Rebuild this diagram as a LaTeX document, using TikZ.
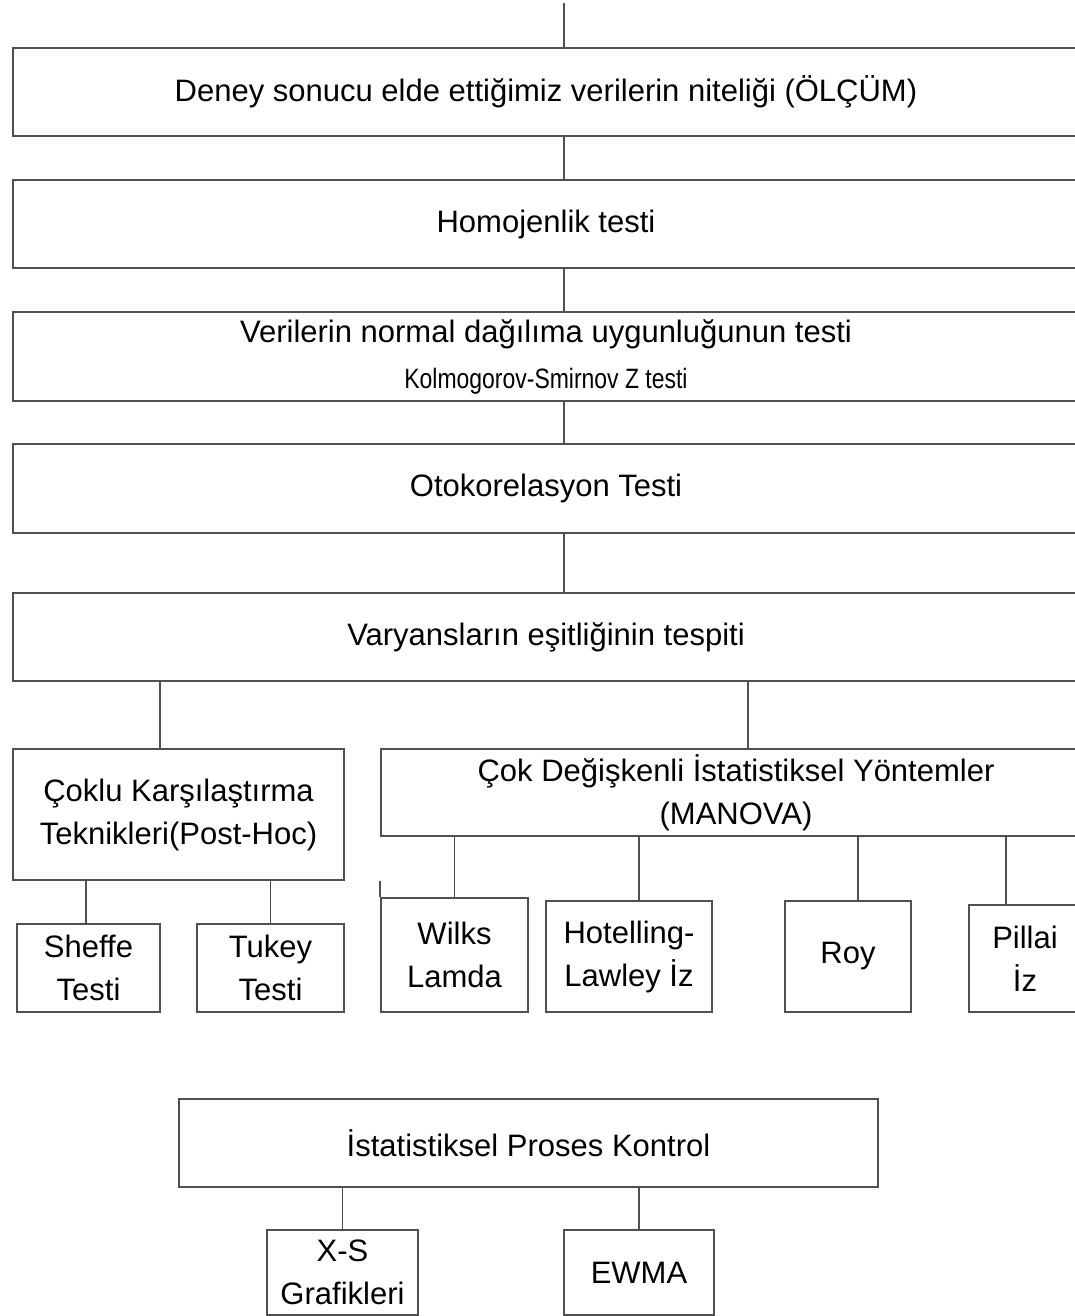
\documentclass[tikz,border=0pt]{standalone}
\usepackage{fontspec}
\setmainfont{Liberation Sans}
\usetikzlibrary{positioning}
\definecolor{framegray}{RGB}{80,80,80}
\tikzset{
  kutu/.style={draw=framegray, line width=2pt, inner sep=0pt, align=center,
    anchor=north west, font=\fontsize{31}{43}\selectfont},
  bag/.style={draw=framegray, line width=1.5pt},
}
\begin{document}
\begin{tikzpicture}[x=1pt, y=-1pt]
\useasboundingbox (0,0) rectangle (1075,1316);
\clip (0,0) rectangle (1075,1316);
\node [kutu, minimum width=1066pt, minimum height=88pt] (olcum) at (12,47) {Deney sonucu elde ettiğimiz verilerin niteliği (ÖLÇÜM)};
\node [kutu, minimum width=1066pt, minimum height=88pt] (homo) at (12,179) {Homojenlik testi};
\node [kutu, minimum width=1066pt, minimum height=89pt] (normal) at (12,311) {Verilerin normal dağılıma uygunluğunun testi\\[3pt]
  {\fontsize{28}{30}\addfontfeature{FakeStretch=0.82}\selectfont Kolmogorov-Smirnov Z testi}};
\node [kutu, minimum width=1066pt, minimum height=89pt] (otok) at (12,443) {Otokorelasyon Testi};
\node [kutu, minimum width=1066pt, minimum height=88pt] (varyans) at (12,592) {Varyansların eşitliğinin tespiti};

\node [kutu, minimum width=331pt, minimum height=131pt] (coklu) at (12,748) {Çoklu Karşılaştırma\\Teknikleri(Post-Hoc)};
\node [kutu, minimum width=143pt, minimum height=88pt] (sheffe) at (16,923) {Sheffe\\Testi};
\node [kutu, minimum width=147pt, minimum height=88pt] (tukey) at (196,923) {Tukey\\Testi};

\node [kutu, minimum width=710pt, minimum height=87pt] (manova) at (380,748) {Çok Değişkenli İstatistiksel Yöntemler\\(MANOVA)};
\node [kutu, minimum width=147pt, minimum height=114pt] (wilks) at (380,897) {Wilks\\Lamda};
\node [kutu, minimum width=166pt, minimum height=111pt] (hot) at (545,900) {Hotelling-\\Lawley İz};
\node [kutu, minimum width=126pt, minimum height=111pt] (roy) at (784,900) {Roy};
\node [kutu, minimum width=112pt, minimum height=107pt] (pillai) at (968,904) {Pillai\\İz};

\node [kutu, minimum width=699pt, minimum height=88pt] (spk) at (178,1098) {İstatistiksel Proses Kontrol};
\node [kutu, minimum width=151pt, minimum height=85pt] (xs) at (266,1229) {X-S\\Grafikleri};
\node [kutu, minimum width=150pt, minimum height=85pt] (ewma) at (563,1229) {EWMA};

\coordinate (trunk) at (564,3);
\draw [bag] (trunk) -- (olcum.north -| trunk);
\draw [bag] (olcum.south -| trunk) -- (homo.north -| trunk);
\draw [bag] (homo.south -| trunk) -- (normal.north -| trunk);
\draw [bag] (normal.south -| trunk) -- (otok.north -| trunk);
\draw [bag] (otok.south -| trunk) -- (varyans.north -| trunk);

\coordinate (kol) at ([xshift=-18.5pt]coklu.north);
\coordinate (mkol) at ([xshift=12pt]manova.north);
\draw [bag] (varyans.south -| kol) -- (kol);
\draw [bag] (varyans.south -| mkol) -- (mkol);

\coordinate (shc) at ([xshift=-2.5pt]sheffe.north);
\draw [bag] (coklu.south -| shc) -- (shc);
\draw [bag] (coklu.south -| tukey.north) -- (tukey.north);

\coordinate (hotc) at ([xshift=10pt]hot.north);
\coordinate (royc) at ([xshift=10pt]roy.north);
\coordinate (pilc) at ([xshift=-19pt]pillai.north);
\draw [bag] (manova.south -| wilks.north) -- (wilks.north);
\draw [bag] (manova.south -| hotc) -- (hotc);
\draw [bag] (manova.south -| royc) -- (royc);
\draw [bag] (manova.south -| pilc) -- (pilc);
\draw [bag] (wilks.north west |- coklu.south) -- (wilks.north west);

\draw [bag] (spk.south -| xs.north) -- (xs.north);
\draw [bag] (spk.south -| ewma.north) -- (ewma.north);
\end{tikzpicture}
\end{document}
